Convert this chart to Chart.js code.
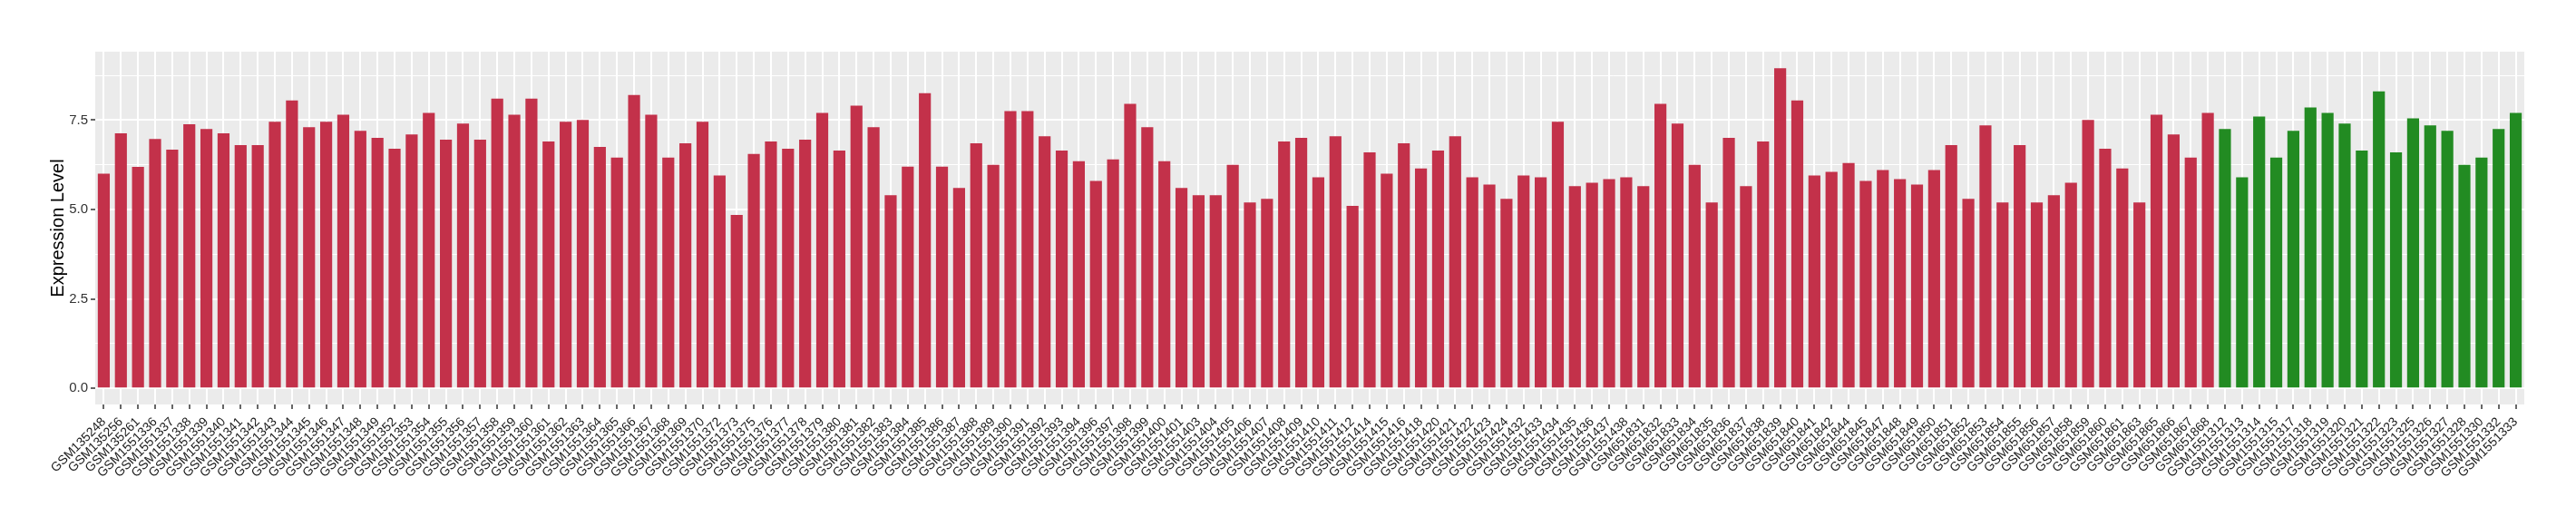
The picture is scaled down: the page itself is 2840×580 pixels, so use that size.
<!DOCTYPE html>
<html>
<head>
<meta charset="utf-8">
<script src="https://cdn.jsdelivr.net/npm/chart.js@4/dist/chart.umd.min.js"></script>
<style>
  html, body { margin: 0; padding: 0; background: #fff; }
  #wrap { width: 2840px; height: 580px; }
</style>
</head>
<body>
<div id="wrap"><canvas id="chart" width="2840" height="580"></canvas></div>
<script>
// sample ids, in plotting order
var samples = [
  'GSM135248', 'GSM135256', 'GSM135261', 'GSM1551336', 'GSM1551337', 'GSM1551338', 'GSM1551339', 'GSM1551340',
  'GSM1551341', 'GSM1551342', 'GSM1551343', 'GSM1551344', 'GSM1551345', 'GSM1551346', 'GSM1551347', 'GSM1551348',
  'GSM1551349', 'GSM1551352', 'GSM1551353', 'GSM1551354', 'GSM1551355', 'GSM1551356', 'GSM1551357', 'GSM1551358',
  'GSM1551359', 'GSM1551360', 'GSM1551361', 'GSM1551362', 'GSM1551363', 'GSM1551364', 'GSM1551365', 'GSM1551366',
  'GSM1551367', 'GSM1551368', 'GSM1551369', 'GSM1551370', 'GSM1551372', 'GSM1551373', 'GSM1551375', 'GSM1551376',
  'GSM1551377', 'GSM1551378', 'GSM1551379', 'GSM1551380', 'GSM1551381', 'GSM1551382', 'GSM1551383', 'GSM1551384',
  'GSM1551385', 'GSM1551386', 'GSM1551387', 'GSM1551388', 'GSM1551389', 'GSM1551390', 'GSM1551391', 'GSM1551392',
  'GSM1551393', 'GSM1551394', 'GSM1551396', 'GSM1551397', 'GSM1551398', 'GSM1551399', 'GSM1551400', 'GSM1551401',
  'GSM1551403', 'GSM1551404', 'GSM1551405', 'GSM1551406', 'GSM1551407', 'GSM1551408', 'GSM1551409', 'GSM1551410',
  'GSM1551411', 'GSM1551412', 'GSM1551414', 'GSM1551415', 'GSM1551416', 'GSM1551418', 'GSM1551420', 'GSM1551421',
  'GSM1551422', 'GSM1551423', 'GSM1551424', 'GSM1551432', 'GSM1551433', 'GSM1551434', 'GSM1551435', 'GSM1551436',
  'GSM1551437', 'GSM1551438', 'GSM651831', 'GSM651832', 'GSM651833', 'GSM651834', 'GSM651835', 'GSM651836',
  'GSM651837', 'GSM651838', 'GSM651839', 'GSM651840', 'GSM651841', 'GSM651842', 'GSM651844', 'GSM651845',
  'GSM651847', 'GSM651848', 'GSM651849', 'GSM651850', 'GSM651851', 'GSM651852', 'GSM651853', 'GSM651854',
  'GSM651855', 'GSM651856', 'GSM651857', 'GSM651858', 'GSM651859', 'GSM651860', 'GSM651861', 'GSM651863',
  'GSM651865', 'GSM651866', 'GSM651867', 'GSM651868',
  'GSM1551312', 'GSM1551313', 'GSM1551314', 'GSM1551315', 'GSM1551317', 'GSM1551318', 'GSM1551319', 'GSM1551320',
  'GSM1551321', 'GSM1551322', 'GSM1551323', 'GSM1551325', 'GSM1551326', 'GSM1551327', 'GSM1551328', 'GSM1551330',
  'GSM1551332', 'GSM1551333'
];

// expression values, first group (red)
var groupA = [
  6.00, 7.13, 6.19, 6.97, 6.67, 7.38, 7.25, 7.13, 6.80, 6.80, 7.45, 8.05, 7.30, 7.45, 7.65, 7.20,
  7.00, 6.70, 7.10, 7.70, 6.95, 7.40, 6.95, 8.10, 7.65, 8.10, 6.90, 7.45, 7.50, 6.75, 6.45, 8.20,
  7.65, 6.45, 6.85, 7.45, 5.95, 4.85, 6.55, 6.90, 6.70, 6.95, 7.70, 6.65, 7.90, 7.30, 5.40, 6.20,
  8.25, 6.20, 5.60, 6.85, 6.25, 7.75, 7.75, 7.05, 6.65, 6.35, 5.80, 6.40, 7.95, 7.30, 6.35, 5.60,
  5.40, 5.40, 6.25, 5.20, 5.30, 6.90, 7.00, 5.90, 7.05, 5.10, 6.60, 6.00, 6.85, 6.15, 6.65, 7.05,
  5.90, 5.70, 5.30, 5.95, 5.90, 7.45, 5.65, 5.75, 5.85, 5.90, 5.65, 7.95, 7.40, 6.25, 5.20, 7.00,
  5.65, 6.90, 8.95, 8.05, 5.95, 6.05, 6.30, 5.80, 6.10, 5.85, 5.70, 6.10, 6.80, 5.30, 7.35, 5.20,
  6.80, 5.20, 5.40, 5.75, 7.50, 6.70, 6.15, 5.20, 7.65, 7.10, 6.45, 7.70
];

// expression values, second group (green)
var groupB = [
  7.25, 5.90, 7.60, 6.45, 7.20, 7.85, 7.70, 7.40, 6.65, 8.30, 6.60, 7.55, 7.35, 7.20, 6.25, 6.45,
  7.25, 7.70
];

var yTicks = [0, 2.5, 5, 7.5];
var yMinor = [1.25, 3.75, 6.25, 8.75];

var RED = '#C3314A';
var GREEN = '#228B22';

var values = groupA.concat(groupB);
var colors = groupA.map(function () { return RED; }).concat(groupB.map(function () { return GREEN; }));

var panelBg = {
  id: 'panelBg',
  beforeDraw: function (chart) {
    var a = chart.chartArea;
    var ctx = chart.ctx;
    ctx.save();
    ctx.fillStyle = '#EBEBEB';
    ctx.fillRect(a.left, a.top, a.right - a.left, a.bottom - a.top);
    ctx.restore();
  }
};

function isMajor(v) {
  return yTicks.indexOf(v) !== -1;
}

new Chart(document.getElementById('chart'), {
  type: 'bar',
  data: {
    labels: samples,
    datasets: [{
      data: values,
      backgroundColor: colors,
      borderWidth: 0,
      barPercentage: 0.7,
      categoryPercentage: 1.0
    }]
  },
  options: {
    responsive: false,
    animation: false,
    events: [],
    layout: { padding: { top: 57, right: 57, left: 0, bottom: 0 } },
    plugins: {
      legend: { display: false },
      tooltip: { enabled: false }
    },
    scales: {
      x: {
        type: 'category',
        offset: true,
        grid: {
          offset: false,
          color: '#FFFFFF',
          lineWidth: 2,
          drawTicks: true,
          tickLength: 5,
          tickColor: '#333333',
          tickWidth: 1.5
        },
        border: { display: false },
        ticks: {
          autoSkip: false,
          maxRotation: 45,
          minRotation: 45,
          padding: 6,
          color: '#1A1A1A',
          font: { family: 'Liberation Sans, Arial, sans-serif', size: 14 }
        },
        afterFit: function (s) { s.height = 134; }
      },
      y: {
        min: -0.448,
        max: 9.41,
        afterBuildTicks: function (s) {
          s.ticks = yTicks.concat(yMinor).sort(function (a, b) { return a - b; })
            .map(function (v) { return { value: v }; });
        },
        grid: {
          color: '#FFFFFF',
          lineWidth: function (c) { return c.tick && isMajor(c.tick.value) ? 2 : 1; },
          tickLength: 5,
          tickWidth: 1.5,
          tickColor: function (c) { return c.tick && isMajor(c.tick.value) ? '#333333' : 'rgba(0,0,0,0)'; }
        },
        border: { display: false },
        ticks: {
          padding: 3,
          color: '#333333',
          font: { family: 'Liberation Sans, Arial, sans-serif', size: 15 },
          callback: function (v) { return isMajor(v) ? v.toFixed(1) : ''; }
        },
        title: {
          display: true,
          text: 'Expression Level',
          color: '#000000',
          font: { family: 'Liberation Sans, Arial, sans-serif', size: 20 },
          padding: { top: 52, bottom: 0 }
        },
        afterFit: function (s) { s.width = 105; }
      }
    }
  },
  plugins: [panelBg]
});
</script>
</body>
</html>
